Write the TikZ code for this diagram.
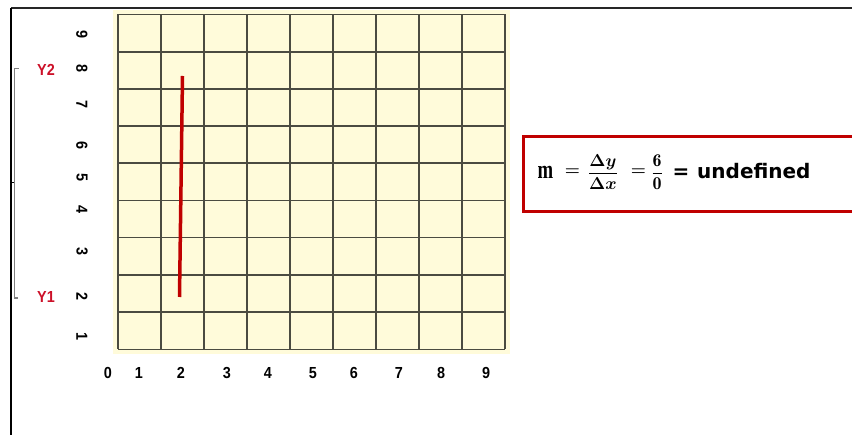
\documentclass[tikz,border=0pt]{standalone}
\usepackage{amsmath}
\usepackage{bm}
\usepackage{graphicx}
\usepackage{fontspec}
\newfontfamily\labfont[FakeStretch=0.9]{Liberation Sans Bold}
\newfontfamily\undfont{DejaVu Sans Bold}
\newfontfamily\mfont{Liberation Serif Bold}
\newcommand\sqz[1]{\scalebox{0.72}[1]{#1}}
\definecolor{gridbg}{RGB}{255,251,218}
\definecolor{gridline}{RGB}{75,75,65}
\definecolor{darkred}{RGB}{192,0,0}
\definecolor{ylab}{RGB}{204,16,40}
\definecolor{brk}{RGB}{128,128,128}
\tikzset{
  axlab/.style={font=\labfont\fontsize{16}{16}\selectfont, inner sep=0pt},
  ylabel/.style={axlab, rotate=-90},
  yname/.style={axlab, text=ylab},
  mathpart/.style={inner sep=0pt},
  gline/.style={gridline, line width=1.3pt},
}
\begin{document}
\begin{tikzpicture}[x=1pt,y=-1pt]
\useasboundingbox (0,0) rectangle (852,435);
% outer frame
\draw[line width=1.8pt, black!85] (11,8) -- (860,8);
\draw[line width=1.4pt, black] (11,8) -- (11,440);
\coordinate (tickA) at (11,183);
\coordinate (tickB) at (15,183);
\draw[line width=1pt] (tickA) -- (tickB);
% grid background
\fill[gridbg] (113,10) rectangle (510,354);
\foreach \x in {118,161,204,247,290,333,376,419,462,505}
  \draw[gline] (\x,14.5) -- (\x,349.5);
\foreach \y in {14.5,52,89,126,163,200.5,237.5,275,312,349.5}
  \draw[gline] (118,\y) -- (505,\y);
% red segment
\coordinate (P2) at (182.5,76);
\coordinate (P1) at (179.5,297);
\draw[darkred, line width=3.5pt] (P2) -- (P1);
% bracket
\coordinate (bt) at (18.5,68.5);
\coordinate (bb) at (18,298);
\draw[brk, line width=1.2pt] (bt) -- (14.5,68.5) -- (14.5,298) -- (bb);
% Y names
\node[yname] (y2) at (46,70) {Y2};
\node[yname] (y1) at (46,297) {Y1};
% y labels
\node[ylabel] (yl9) at (82,35) {9};
\node[ylabel] (yl8) at (82,69) {8};
\node[ylabel] (yl7) at (82,105) {7};
\node[ylabel] (yl6) at (82,146) {6};
\node[ylabel] (yl5) at (82,178) {5};
\node[ylabel] (yl4) at (82,210) {4};
\node[ylabel] (yl3) at (82,252) {3};
\node[ylabel] (yl2) at (82,297) {2};
\node[ylabel] (yl1) at (82,337) {1};
% x labels
\node[axlab] (xl0) at (108,373) {0};
\node[axlab] (xl1) at (139,373) {1};
\node[axlab] (xl2) at (181,373) {2};
\node[axlab] (xl3) at (227,373) {3};
\node[axlab] (xl4) at (268,373) {4};
\node[axlab] (xl5) at (313,373) {5};
\node[axlab] (xl6) at (354,373) {6};
\node[axlab] (xl7) at (399,373) {7};
\node[axlab] (xl8) at (441,373) {8};
\node[axlab] (xl9) at (486,373) {9};
% formula box
\node[draw=darkred, line width=3pt, minimum width=345pt, minimum height=75pt, anchor=north west, inner sep=0pt] (box) at (521.5,135.5) {};
\node[mathpart, anchor=base west] (m) at (537.5,179) {\sqz{\mfont\fontsize{26}{26}\selectfont m}};
\node[mathpart] (eq1) at (572.5,172) {\fontsize{19}{19}\selectfont$\bm{=}$};
\node[mathpart] (fr1) at (603,172) {\fontsize{17}{17}\selectfont$\dfrac{\bm{\Delta y}}{\bm{\Delta x}}$};
\node[mathpart] (eq2) at (638.5,172) {\fontsize{19}{19}\selectfont$\bm{=}$};
\node[mathpart] (fr2) at (657,172) {\fontsize{18}{18}\selectfont$\dfrac{\mathbf{6}}{\mathbf{0}}$};
\node[mathpart, anchor=base] (eq3) at (681,179) {\undfont\fontsize{20}{20}\selectfont =};
\node[mathpart, anchor=base west] (und) at (697,179) {\undfont\fontsize{20}{20}\selectfont undefined};
\end{tikzpicture}
\end{document}
